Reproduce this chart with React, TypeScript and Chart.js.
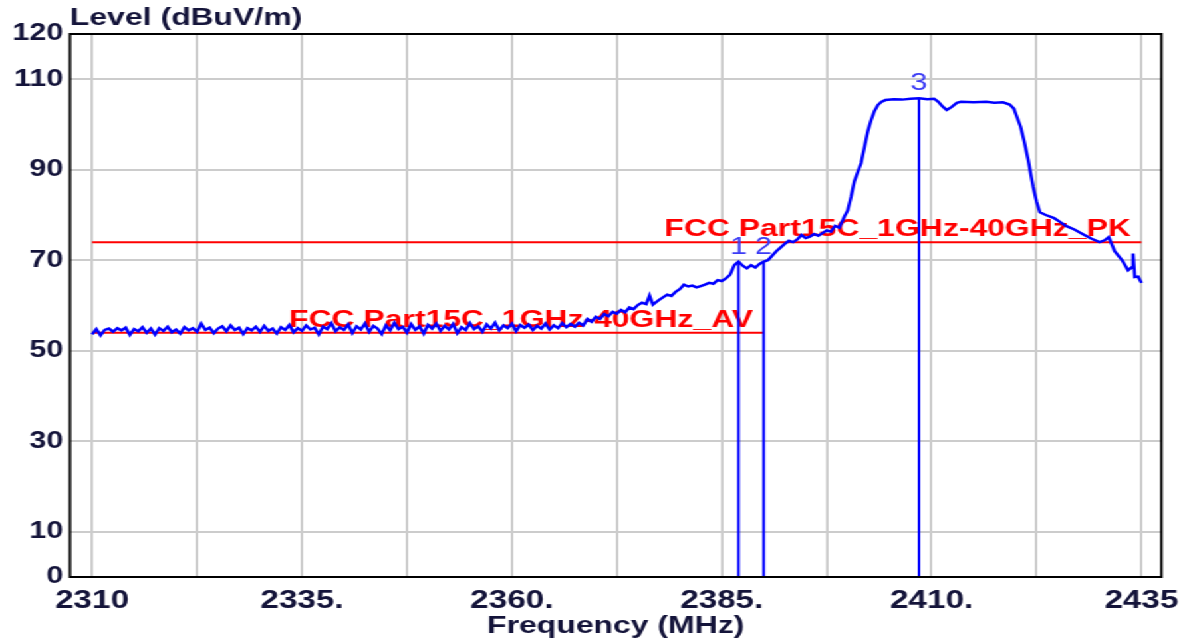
import React, { useEffect, useRef } from "react";
import { Chart, registerables } from "chart.js";

Chart.register(...registerables);

// The reference picture is horizontally stretched; draw on a narrower canvas and stretch it.
const CANVAS_W = 894;
const CANVAS_H = 641;
const STRETCH = 1189 / CANVAS_W;

const FONT = '"Liberation Sans", Arial, sans-serif';
const INK = "#14143a";

// Sweep (MHz) and measured level (dBuV/m)
const traceMHz: number[] = [
  2310, 2310.5, 2311, 2311.5, 2312, 2312.5, 2313, 2313.5, 2314, 2314.5,
  2315, 2315.5, 2316, 2316.5, 2317, 2317.5, 2318, 2318.5, 2319, 2319.5,
  2320, 2320.5, 2321, 2321.5, 2322, 2322.5, 2323, 2323.5, 2324, 2324.5,
  2325, 2325.5, 2326, 2326.5, 2327, 2327.5, 2328, 2328.5, 2329, 2329.5,
  2330, 2330.5, 2331, 2331.5, 2332, 2332.5, 2333, 2333.5, 2334, 2334.5,
  2335, 2335.5, 2336, 2336.5, 2337, 2337.5, 2338, 2338.5, 2339, 2339.5,
  2340, 2340.5, 2341, 2341.5, 2342, 2342.5, 2343, 2343.5, 2344, 2344.5,
  2345, 2345.5, 2346, 2346.5, 2347, 2347.5, 2348, 2348.5, 2349, 2349.5,
  2350, 2350.5, 2351, 2351.5, 2352, 2352.5, 2353, 2353.5, 2354, 2354.5,
  2355, 2355.5, 2356, 2356.5, 2357, 2357.5, 2358, 2358.5, 2359, 2359.5,
  2360, 2360.5, 2361, 2361.5, 2362, 2362.5, 2363, 2363.5, 2364, 2364.5,
  2365, 2365.5, 2366, 2366.5, 2367, 2367.5, 2368, 2368.5, 2369, 2369.5,
  2370, 2370.5, 2371, 2371.5, 2372,
  2372.5, 2373, 2373.5, 2374, 2374.5, 2375, 2375.5, 2376, 2376.4, 2376.8,
  2377.5, 2378, 2378.5, 2379, 2379.5, 2380, 2380.5, 2381, 2381.5, 2382,
  2382.5, 2383, 2383.5, 2384, 2384.5, 2385, 2385.5, 2386, 2386.5, 2387,
  2387.5, 2388, 2388.5, 2389, 2389.5, 2390, 2390.5, 2391, 2391.5, 2392,
  2392.5, 2393, 2393.5, 2394, 2394.5, 2395, 2395.5, 2396, 2396.5, 2397,
  2397.5, 2398, 2398.5, 2399, 2399.6, 2400, 2400.4, 2400.8, 2401.2, 2401.6,
  2402, 2402.4, 2402.8, 2403.2, 2403.6, 2404, 2404.5, 2405.5, 2406.5, 2407.5,
  2408.5, 2409.5, 2410.3, 2410.8, 2411.3, 2411.8, 2412.4, 2413, 2413.5, 2415,
  2416.5, 2417.5, 2418.5, 2419.3, 2419.8, 2420.2, 2420.6, 2421, 2421.5, 2422.1,
  2422.5, 2422.9, 2423.6, 2424.6, 2425.2, 2426, 2427, 2428.2, 2429, 2430,
  2430.6, 2431.1, 2431.8, 2432.7, 2433.4, 2433.9, 2434, 2434.2, 2434.6, 2435,
];

const traceLevel: number[] = [
  53.6, 54.8, 53.4, 54.6, 54.9, 54.2, 55.0, 54.5, 55.1, 53.5,
  54.8, 54.3, 55.2, 54.0, 54.9, 53.6, 55.0, 54.4, 55.3, 54.1,
  54.7, 53.8, 55.2, 54.5, 55.0, 54.2, 56.0, 54.6, 55.1, 53.9,
  54.9, 55.4, 54.3, 55.6, 54.6, 55.1, 53.7, 55.0, 54.5, 55.3,
  54.2, 55.5, 54.4, 54.9, 53.8, 55.2, 54.6, 55.7, 54.1, 55.0,
  54.4, 55.6, 54.7, 55.1, 53.6, 55.3, 54.8, 56.1, 54.3, 55.2,
  54.6, 55.8, 53.9, 55.4, 54.7, 56.0, 54.2, 55.5, 54.9, 53.7,
  55.6, 54.5, 56.2, 54.8, 55.3, 54.0, 55.9, 54.6, 55.4, 53.8,
  55.7, 54.9, 56.0, 54.4, 55.5, 54.7, 55.9, 53.9, 55.2, 54.6,
  56.1, 54.8, 55.4, 54.2, 55.8, 54.9, 56.2, 54.5, 55.6, 55.0,
  56.0, 54.3, 55.7, 55.1, 55.8, 54.6, 55.5, 54.9, 56.0, 54.7,
  55.6, 55.0, 56.1, 55.2, 55.9, 55.3, 56.2, 55.6, 57.0, 56.4,
  57.5, 57.0, 58.1, 57.6, 58.6,
  58.2, 59.0, 58.5, 59.6, 59.2, 60.1, 60.6, 60.3, 62.2, 60.2,
  61.2, 61.8, 62.4, 62.1, 63.0, 63.6, 64.6, 64.2, 64.4, 64.0,
  64.3, 64.6, 65.0, 64.8, 65.6, 65.4, 66.0, 66.8, 68.9, 69.7,
  68.8, 68.2, 68.9, 68.4, 69.2, 69.7, 70.0, 71.0, 72.0, 72.8,
  73.6, 74.3, 74.0, 74.6, 75.6, 74.9, 75.2, 75.8, 75.4, 76.0,
  76.6, 76.3, 77.6, 77.2, 79.6, 81.0, 84.0, 87.5, 89.5, 91.5,
  95.0, 98.5, 101.0, 103.0, 104.3, 105.0, 105.4, 105.6, 105.5, 105.7,
  105.8, 105.6, 105.7, 105.0, 104.0, 103.2, 103.9, 104.8, 105.0, 104.9,
  105.0, 104.8, 104.9, 104.4, 103.5, 101.5, 99.5, 96.5, 92.2, 86.2,
  83.0, 80.6, 80.0, 79.3, 78.6, 77.6, 76.8, 75.6, 74.8, 74.0,
  74.4, 75.1, 72.0, 70.0, 67.8, 68.5, 71.5, 66.3, 66.4, 65.0,
];

// Markers
const markerNames: string[] = ["1", "2", "3"];
const markerMHz: number[] = [2387.0, 2390.0, 2408.5];
const markerLevel: number[] = [69.7, 69.7, 105.8];

// Limit lines
const limitNames: string[] = ["FCC Part15C_1GHz-40GHz_PK", "FCC Part15C_1GHz-40GHz_AV"];
const limitLevel: number[] = [74, 54];
const limitStartMHz: number[] = [2310, 2310];
const limitEndMHz: number[] = [2435, 2390];

// Axes
const xMinMHz = 2307.36;
const xMaxMHz = 2437.38;
const xGridMHz: number[] = [2310, 2322.5, 2335, 2347.5, 2360, 2372.5, 2385, 2397.5, 2410, 2422.5, 2435];
const xTickLabels: string[] = ["2310", "", "2335.", "", "2360.", "", "2385.", "", "2410.", "", "2435"];
const yTicks: number[] = [0, 10, 30, 50, 70, 90, 110, 120];

const overlayPlugin = {
  id: "overlay",
  beforeDatasetsDraw(chart: any) {
    const { ctx, scales } = chart;
    const xs = scales.x;
    const ys = scales.y;
    ctx.save();
    ctx.fillStyle = "#ff0000";
    ctx.font = `bold 24px ${FONT}`;
    ctx.textAlign = "right";
    ctx.textBaseline = "alphabetic";
    limitNames.forEach((name, i) => {
      const x = xs.getPixelForValue(limitEndMHz[i]) - 8;
      const y = ys.getPixelForValue(limitLevel[i]) - 6;
      ctx.fillText(name, x, y);
    });
    ctx.restore();
  },
  afterDatasetsDraw(chart: any) {
    const { ctx, scales, chartArea } = chart;
    const xs = scales.x;
    const ys = scales.y;
    ctx.save();
    ctx.fillStyle = "#3c3cf5";
    ctx.font = `23px ${FONT}`;
    ctx.textAlign = "center";
    ctx.textBaseline = "alphabetic";
    markerNames.forEach((name, i) => {
      const x = xs.getPixelForValue(markerMHz[i]);
      const y = ys.getPixelForValue(markerLevel[i]) - 8;
      ctx.fillText(name, x, y);
    });
    ctx.strokeStyle = "#000000";
    ctx.lineWidth = 2;
    ctx.strokeRect(chartArea.left, chartArea.top, chartArea.right - chartArea.left, chartArea.bottom - chartArea.top);
    ctx.restore();
  },
};

export default function App() {
  const canvasRef = useRef<HTMLCanvasElement | null>(null);

  useEffect(() => {
    const canvas = canvasRef.current;
    if (!canvas) return;

    const datasets: any[] = [
      {
        label: "Trace",
        data: traceMHz.map((f, i) => ({ x: f, y: traceLevel[i] })),
        borderColor: "#0000ff",
        borderWidth: 2.5,
        pointRadius: 0,
        tension: 0,
        fill: false,
      },
    ];
    markerMHz.forEach((f, i) => {
      datasets.push({
        label: "Marker " + markerNames[i],
        data: [
          { x: f, y: 0 },
          { x: f, y: markerLevel[i] },
        ],
        borderColor: "#0000ff",
        borderWidth: 2,
        pointRadius: 0,
        fill: false,
      });
    });
    limitNames.forEach((name, i) => {
      datasets.push({
        label: name,
        data: [
          { x: limitStartMHz[i], y: limitLevel[i] },
          { x: limitEndMHz[i], y: limitLevel[i] },
        ],
        borderColor: "#ff0000",
        borderWidth: 2,
        pointRadius: 0,
        fill: false,
      });
    });

    const chart = new Chart(canvas, {
      type: "line",
      data: { datasets },
      plugins: [overlayPlugin],
      options: {
        responsive: false,
        animation: false,
        devicePixelRatio: 1,
        layout: { padding: { left: 0, right: 20.7, top: 0, bottom: 0 } },
        plugins: {
          legend: { display: false },
          tooltip: { enabled: false },
          title: {
            display: true,
            text: "Level (dBuV/m)",
            align: "start",
            fullSize: false,
            color: INK,
            font: { family: FONT, size: 24, weight: "bold" },
            padding: { top: 4, bottom: 1.2 },
          },
        },
        scales: {
          x: {
            type: "linear",
            min: xMinMHz,
            max: xMaxMHz,
            afterBuildTicks: (s: any) => {
              s.ticks = xGridMHz.map((v) => ({ value: v }));
            },
            afterFit: (s: any) => {
              s.height = 64;
              s.paddingLeft = 0;
              s.paddingRight = 0;
            },
            ticks: {
              autoSkip: false,
              maxRotation: 0,
              minRotation: 0,
              padding: 9,
              color: INK,
              font: { family: FONT, size: 25, weight: "bold" },
              callback: (v: any) => {
                const idx = xGridMHz.indexOf(Number(v));
                return idx >= 0 ? xTickLabels[idx] : "";
              },
            },
            grid: { color: "#cccccc", lineWidth: 2, drawTicks: false },
            border: { display: false },
            title: {
              display: true,
              text: "Frequency (MHz)",
              color: INK,
              font: { family: FONT, size: 24, weight: "bold" },
              padding: { top: 0, bottom: 0 },
            },
          },
          y: {
            type: "linear",
            min: 0,
            max: 120,
            afterBuildTicks: (s: any) => {
              s.ticks = yTicks.map((v) => ({ value: v }));
            },
            afterFit: (s: any) => {
              s.width = 52.6;
              s.paddingTop = 0;
              s.paddingBottom = 0;
            },
            ticks: {
              padding: 5,
              color: INK,
              font: { family: FONT, size: 23, weight: "bold" },
              callback: (v: any) => String(v),
            },
            grid: { color: "#cccccc", lineWidth: 2, drawTicks: false },
            border: { display: false },
          },
        },
      } as any,
    });

    return () => {
      chart.destroy();
    };
  }, []);

  return (
    <div
      style={{
        position: "fixed",
        left: 0,
        top: 0,
        width: CANVAS_W,
        height: CANVAS_H,
        background: "#ffffff",
        transform: `scaleX(${STRETCH})`,
        transformOrigin: "0 0",
      }}
    >
      <canvas ref={canvasRef} width={CANVAS_W} height={CANVAS_H} style={{ display: "block" }} />
    </div>
  );
}
